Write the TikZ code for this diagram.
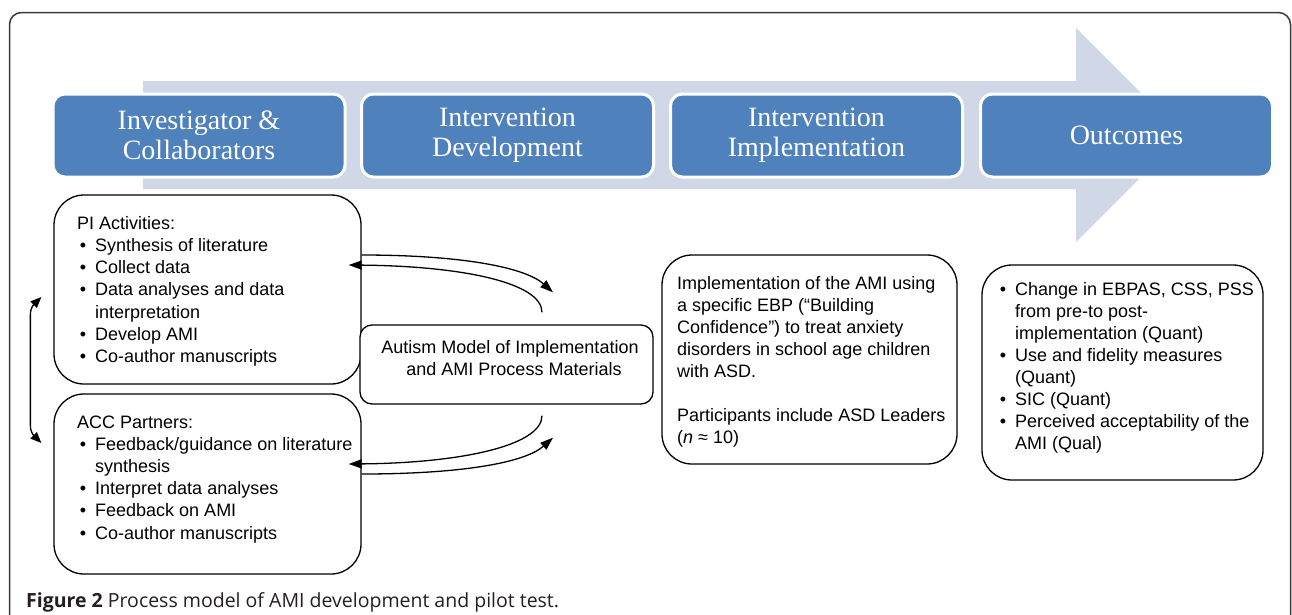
\documentclass[tikz,border=0pt]{standalone}
\usepackage{fontspec}
\setmainfont{Liberation Sans}
\newfontfamily\boxserif{Liberation Serif}
\newfontfamily\capsans{Open Sans}
\usetikzlibrary{arrows.meta,calc}
\definecolor{bandc}{HTML}{D0D8E8}
\definecolor{bluec}{HTML}{4F81BD}
\definecolor{framec}{HTML}{3A3A3A}
\definecolor{captc}{HTML}{231F20}
\begin{document}
\begin{tikzpicture}[x=1pt,y=-1pt,
  stage/.style={draw=white, line width=3pt, fill=bluec, rounded corners=12pt,
    minimum width=292pt, minimum height=83pt, text=white, inner sep=0pt,
    font=\boxserif\fontsize{28}{30}\selectfont, align=center},
  rbox/.style={draw=black, line width=1.3pt, rounded corners=30pt, fill=white, inner sep=0pt},
  txt/.style={anchor=base west, inner sep=0pt, font=\fontsize{18}{22}\selectfont},
  bul/.style={anchor=base, inner sep=0pt, font=\fontsize{18}{22}\selectfont},
  ctxt/.style={anchor=base, inner sep=0pt, font=\fontsize{18}{22}\selectfont},
  link/.style={line width=1.3pt, -{Triangle[length=13pt,width=9pt]}},
  blink/.style={line width=1.3pt, {Triangle[length=11pt,width=9pt]}-{Triangle[length=11pt,width=9pt]}},
]
\useasboundingbox (0,0) rectangle (1292,614);

% background arrow
\fill[bandc] (143,81) -- (1076,81) -- (1076,28) -- (1183,135) -- (1076,242) -- (1076,189) -- (143,189) -- cycle;

% stages
\node[stage] (s1) at (199,135.5) {Investigator \&\\Collaborators};
\node[stage] (s2) at (507.5,135.5) {Intervention\\Development};
\node[stage] (s3) at (816.5,135.5) {Intervention\\Implementation};
\node[stage] (s4) at (1126.5,135.5) {Outcomes};

% frame
\draw[framec, line width=1.5pt, rounded corners=12pt] (9.5,630) -- (9.5,12.5) -- (1290.5,12.5) -- (1290.5,630);

% boxes
\node[rbox, minimum width=307pt, minimum height=189pt] (pi) at (207.5,289.5) {};
\node[rbox, minimum width=307pt, minimum height=180pt] (acc) at (207.5,484) {};
\node[rbox, rounded corners=12pt, minimum width=293pt, minimum height=79pt] (ami) at (506.5,364.5) {};
\node[rbox, minimum width=295pt, minimum height=209pt] (impl) at (809.5,359.5) {};
\node[rbox, minimum width=281pt, minimum height=215pt] (outc) at (1122.5,372.5) {};

% PI text
\node[txt] (pi0) at (77,229) {PI Activities:};
\node[bul] (pib1) at (83,251.3) {•}; \node[txt] (pit1) at (95,251.3) {Synthesis of literature};
\node[bul] (pib2) at (83,273.6) {•}; \node[txt] (pit2) at (95,273.6) {Collect data};
\node[bul] (pib3) at (83,295.9) {•}; \node[txt] (pit3) at (95,295.9) {Data analyses and data};
\node[txt] (pit4) at (95,318.2) {interpretation};
\node[bul] (pib5) at (83,340.5) {•}; \node[txt] (pit5) at (95,340.5) {Develop AMI};
\node[bul] (pib6) at (83,362.8) {•}; \node[txt] (pit6) at (95,362.8) {Co-author manuscripts};

% ACC text
\node[txt] (acc0) at (77,428) {ACC Partners:};
\node[bul] (accb1) at (83,450.2) {•}; \node[txt] (acct1) at (95,450.2) {Feedback/guidance on literature};
\node[txt] (acct2) at (95,472.4) {synthesis};
\node[bul] (accb3) at (83,494.6) {•}; \node[txt] (acct3) at (95,494.6) {Interpret data analyses};
\node[bul] (accb4) at (83,516.8) {•}; \node[txt] (acct4) at (95,516.8) {Feedback on AMI};
\node[bul] (accb5) at (83,539) {•}; \node[txt] (acct5) at (95,539) {Co-author manuscripts};

% AMI text
\node[ctxt] (amit1) at (510,353) {Autism Model of Implementation};
\node[ctxt] (amit2) at (514,375) {and AMI Process Materials};

% Implementation text
\node[txt] (im1) at (677,289) {Implementation of the AMI using};
\node[txt] (im2) at (677,311) {a specific EBP (“Building};
\node[txt] (im3) at (677,333) {Confidence”) to treat anxiety};
\node[txt] (im4) at (677,355) {disorders in school age children};
\node[txt] (im5) at (677,377) {with ASD.};
\node[txt] (im6) at (677,421) {Participants include ASD Leaders};
\node[txt] (im7) at (677,443) {(\textit{n} ≈ 10)};

% Outcomes text
\node[bul] (ob1) at (1003,295) {•}; \node[txt] (ot1) at (1015,295) {Change in EBPAS, CSS, PSS};
\node[txt] (ot2) at (1015,317.1) {from pre-to post-};
\node[txt] (ot3) at (1015,339.2) {implementation (Quant)};
\node[bul] (ob4) at (1003,361.3) {•}; \node[txt] (ot4) at (1015,361.3) {Use and fidelity measures};
\node[txt] (ot5) at (1015,383.4) {(Quant)};
\node[bul] (ob6) at (1003,405.5) {•}; \node[txt] (ot6) at (1015,405.5) {SIC (Quant)};
\node[bul] (ob7) at (1003,427.6) {•}; \node[txt] (ot7) at (1015,427.6) {Perceived acceptability of the};
\node[txt] (ot8) at (1015,449.7) {AMI (Qual)};

% connectors
\draw[link] ($(pi.east)+(0,-34.5)$) .. controls ($(pi.east)+(100,-34.5)$) and ($(ami.north)+(18.5,-57)$) .. ($(ami.north)+(46.5,-32)$);
\draw[link] ($(ami.north)+(35.5,-12)$) .. controls ($(ami.north)+(35.5,-42)$) and ($(pi.east)+(99,-23.5)$) .. ($(pi.east)+(-13,-24.5)$);
\draw[link] ($(ami.south)+(35.5,11)$) .. controls ($(ami.south)+(35.5,41)$) and ($(acc.east)+(99,-21)$) .. ($(acc.east)+(-13,-20)$);
\draw[link] ($(acc.east)+(0,-10)$) .. controls ($(acc.east)+(100,-10)$) and ($(ami.south)+(18.5,58)$) .. ($(ami.south)+(46.5,33)$);

\coordinate (lt) at ($(pi.west)+(-12,7.5)$);
\coordinate (lb) at ($(acc.west)+(-12,-41)$);
\draw[blink] (lt) .. controls ($(lt)+(-7,7)$) and ($(lt)+(-11,10)$) .. ($(lt)+(-11,18)$) -- ($(lb)+(-11,-18)$) .. controls ($(lb)+(-11,-10)$) and ($(lb)+(-7,-7)$) .. (lb);

% caption
\node[anchor=base west, inner sep=0pt, text=captc, font=\capsans\fontsize{19.5}{22}\selectfont] (cap) at (26,607) {\textbf{Figure 2} Process model of AMI development and pilot test.};
\end{tikzpicture}
\end{document}
